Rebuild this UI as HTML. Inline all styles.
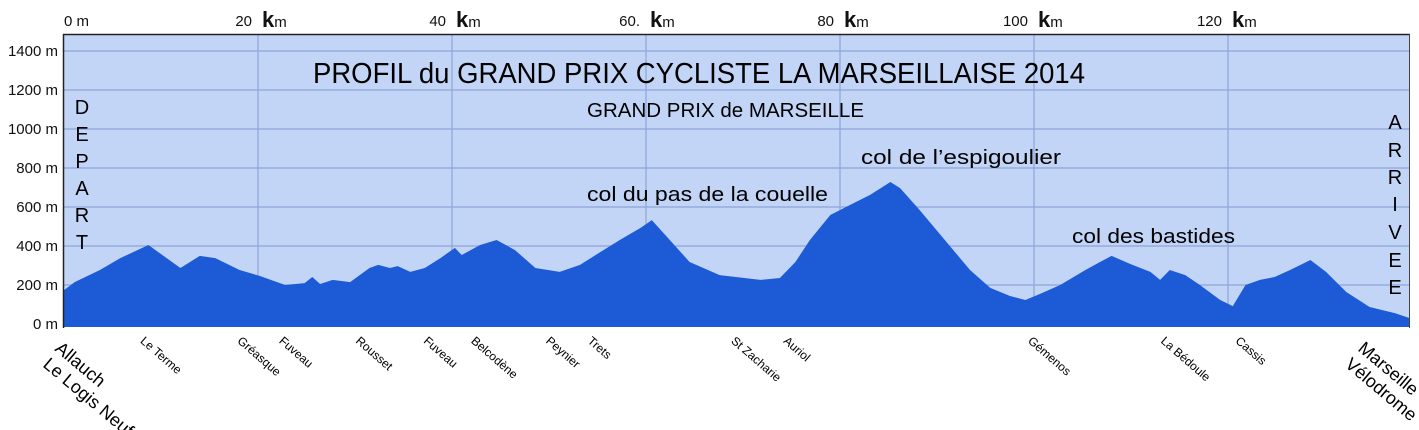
<!DOCTYPE html>
<html><head><meta charset="utf-8"><style>
html,body{margin:0;padding:0;background:#fff;}
svg{display:block;font-family:"Liberation Sans Narrow","Liberation Sans",sans-serif;}
</style></head><body>
<svg id="chart" width="1419" height="430" viewBox="0 0 1419 430">
  <rect x="64" y="35" width="1345" height="292" fill="#c2d5f7"/>
  <g id="grid"></g>
  <path id="profile" fill="#1d5bd6"/>
  <line x1="63" y1="34.5" x2="1410" y2="34.5" stroke="#222" stroke-width="1.5"/>
  <line x1="63.5" y1="34" x2="63.5" y2="328" stroke="#222" stroke-width="1.5"/>
  <line x1="1409.5" y1="34" x2="1409.5" y2="328" stroke="#444" stroke-width="1"/>
  <g id="yticks" font-size="15" fill="#111" text-anchor="end"></g>
  <g id="xticks" font-size="15" fill="#111"></g>

  <text x="313" y="83" font-size="29" textLength="772" lengthAdjust="spacingAndGlyphs">PROFIL du GRAND PRIX CYCLISTE LA MARSEILLAISE 2014</text>
  <text x="587" y="117" font-size="20" textLength="277" lengthAdjust="spacingAndGlyphs">GRAND PRIX de MARSEILLE</text>
  <text x="587" y="201" font-size="20" textLength="241" lengthAdjust="spacingAndGlyphs">col du  pas de la couelle</text>
  <text x="861" y="164" font-size="20" textLength="200" lengthAdjust="spacingAndGlyphs">col de l’espigoulier</text>
  <text x="1072" y="243" font-size="20" textLength="163" lengthAdjust="spacingAndGlyphs">col des bastides</text>

  <g font-size="20" text-anchor="middle" fill="#000">
    <text x="82" y="114">D</text><text x="82" y="141">E</text><text x="82" y="168">P</text>
    <text x="82" y="195">A</text><text x="82" y="222">R</text><text x="82" y="249">T</text>
  </g>
  <g font-size="20" text-anchor="middle" fill="#000">
    <text x="1395" y="129">A</text><text x="1395" y="157">R</text><text x="1395" y="184">R</text>
    <text x="1395" y="211">I</text><text x="1395" y="239">V</text><text x="1395" y="267">E</text><text x="1395" y="294">E</text>
  </g>
  <g id="places" fill="#000"></g>
</svg>
<script>
const kms = [0,1.1,3.7,5.8,8.7,12.0,14.0,15.6,18.1,20.2,22.8,24.8,25.6,26.4,27.7,29.5,31.5,32.4,33.6,34.4,35.7,37.2,38.8,40.3,41.0,42.9,44.6,46.5,48.6,51.1,53.2,55.3,57.3,59.4,60.6,62.0,64.5,67.6,71.8,73.8,75.4,76.9,79.0,81.0,83.1,85.2,86.2,88.2,90.8,93.4,95.5,97.5,99.1,100.6,102.7,105.3,106.8,108.0,109.9,112.0,113.0,114.0,115.6,117.1,119.2,120.5,121.8,123.3,124.8,126.4,128.5,130.1,132.2,134.6,137.2,138.7];
const elevations = [174,215,277,338,405,287,349,338,277,246,200,210,241,205,226,215,287,303,287,297,267,287,338,390,354,405,431,379,287,267,303,369,431,492,533,456,318,251,226,236,318,431,559,610,662,728,697,585,431,277,185,144,123,154,200,277,318,349,308,267,226,277,251,200,123,92,200,226,241,277,328,267,164,87,56,31];
const yTicks = [0,200,400,600,800,1000,1200,1400];
const xTicks = [0,20,40,60,80,100,120];
const xTickLabels = ["0 m","20","40","60.","80","100","120"];
const places = ["Le Terme","Gréasque","Fuveau","Rousset","Fuveau","Belcodène","Peynier","Trets","St Zacharie","Auriol","Gémenos","La Bédoule","Cassis"];
const placeKm = [7.8,17.8,22.1,30.0,37.0,41.9,49.6,53.9,68.7,74.1,99.3,113.0,120.7];

const NS="http://www.w3.org/2000/svg";
const X0=64, PXKM=9.7, Y0=324, PXM=39/200;
const xs = k => X0 + k*PXKM;
const ys = e => Y0 - e*PXM;

let d = "M"+xs(0)+",327";
for(let i=0;i<kms.length;i++) d += " L"+xs(kms[i]).toFixed(1)+","+ys(elevations[i]).toFixed(1);
d += " L"+xs(kms[kms.length-1]).toFixed(1)+",327 Z";
document.getElementById("profile").setAttribute("d", d);

const grid=document.getElementById("grid");
const yt=document.getElementById("yticks");
yTicks.forEach(v=>{
  if(v>0){
    const l=document.createElementNS(NS,"line");
    
    
    l.setAttribute("x1",64);l.setAttribute("x2",1409);
    l.setAttribute("y1",ys(v));l.setAttribute("y2",ys(v));
    l.setAttribute("stroke","#8ea4d8");l.setAttribute("stroke-width","1.2");
    grid.appendChild(l);
  }
  const t=document.createElementNS(NS,"text");
  
  
  t.setAttribute("x",58);t.setAttribute("y",ys(v)+5);
  t.textContent=v+" m";
  yt.appendChild(t);
});
const xt=document.getElementById("xticks");
xTicks.forEach((v,i)=>{
  if(v>0){
    const l=document.createElementNS(NS,"line");
    
    
    l.setAttribute("x1",xs(v));l.setAttribute("x2",xs(v));
    l.setAttribute("y1",35);l.setAttribute("y2",327);
    l.setAttribute("stroke","#8ea4d8");l.setAttribute("stroke-width","1.2");
    grid.appendChild(l);
  }
  const t=document.createElementNS(NS,"text");
  
  
  t.setAttribute("x", v===0 ? xs(v) : xs(v)-6);
  t.setAttribute("y",26);
  if(v>0) t.setAttribute("text-anchor","end");
  t.textContent=xTickLabels[i];
  xt.appendChild(t);
  if(v>0){
    const k=document.createElementNS(NS,"text");
    
    
    k.setAttribute("x",xs(v)+4);k.setAttribute("y",27);
    k.innerHTML='<tspan font-size="22" font-weight="bold">k</tspan><tspan font-size="15">m</tspan>';
    xt.appendChild(k);
  }
});
const pg=document.getElementById("places");
places.forEach((p,i)=>{
  const t=document.createElementNS(NS,"text");
  
  
  const x=xs(placeKm[i]), y=342;
  t.setAttribute("x",x);t.setAttribute("y",y);
  t.setAttribute("font-size","12");
  t.setAttribute("transform","rotate(41 "+x+" "+y+")");
  t.textContent=p;
  pg.appendChild(t);
});
function big(txt,x,y,name){
  const t=document.createElementNS(NS,"text");
  
  
  t.setAttribute("x",x);t.setAttribute("y",y);
  t.setAttribute("font-size","18");
  t.setAttribute("transform","rotate(40 "+x+" "+y+")");
  t.textContent=txt;
  pg.appendChild(t);
}
big("Allauch",54,350,"start-place-label");
big("Le Logis Neuf",42,366,"start-place-label-2");
big("Marseille",1357,350,"finish-place-label");
big("Vélodrome",1344,366,"finish-place-label-2");
</script>
</body></html>
